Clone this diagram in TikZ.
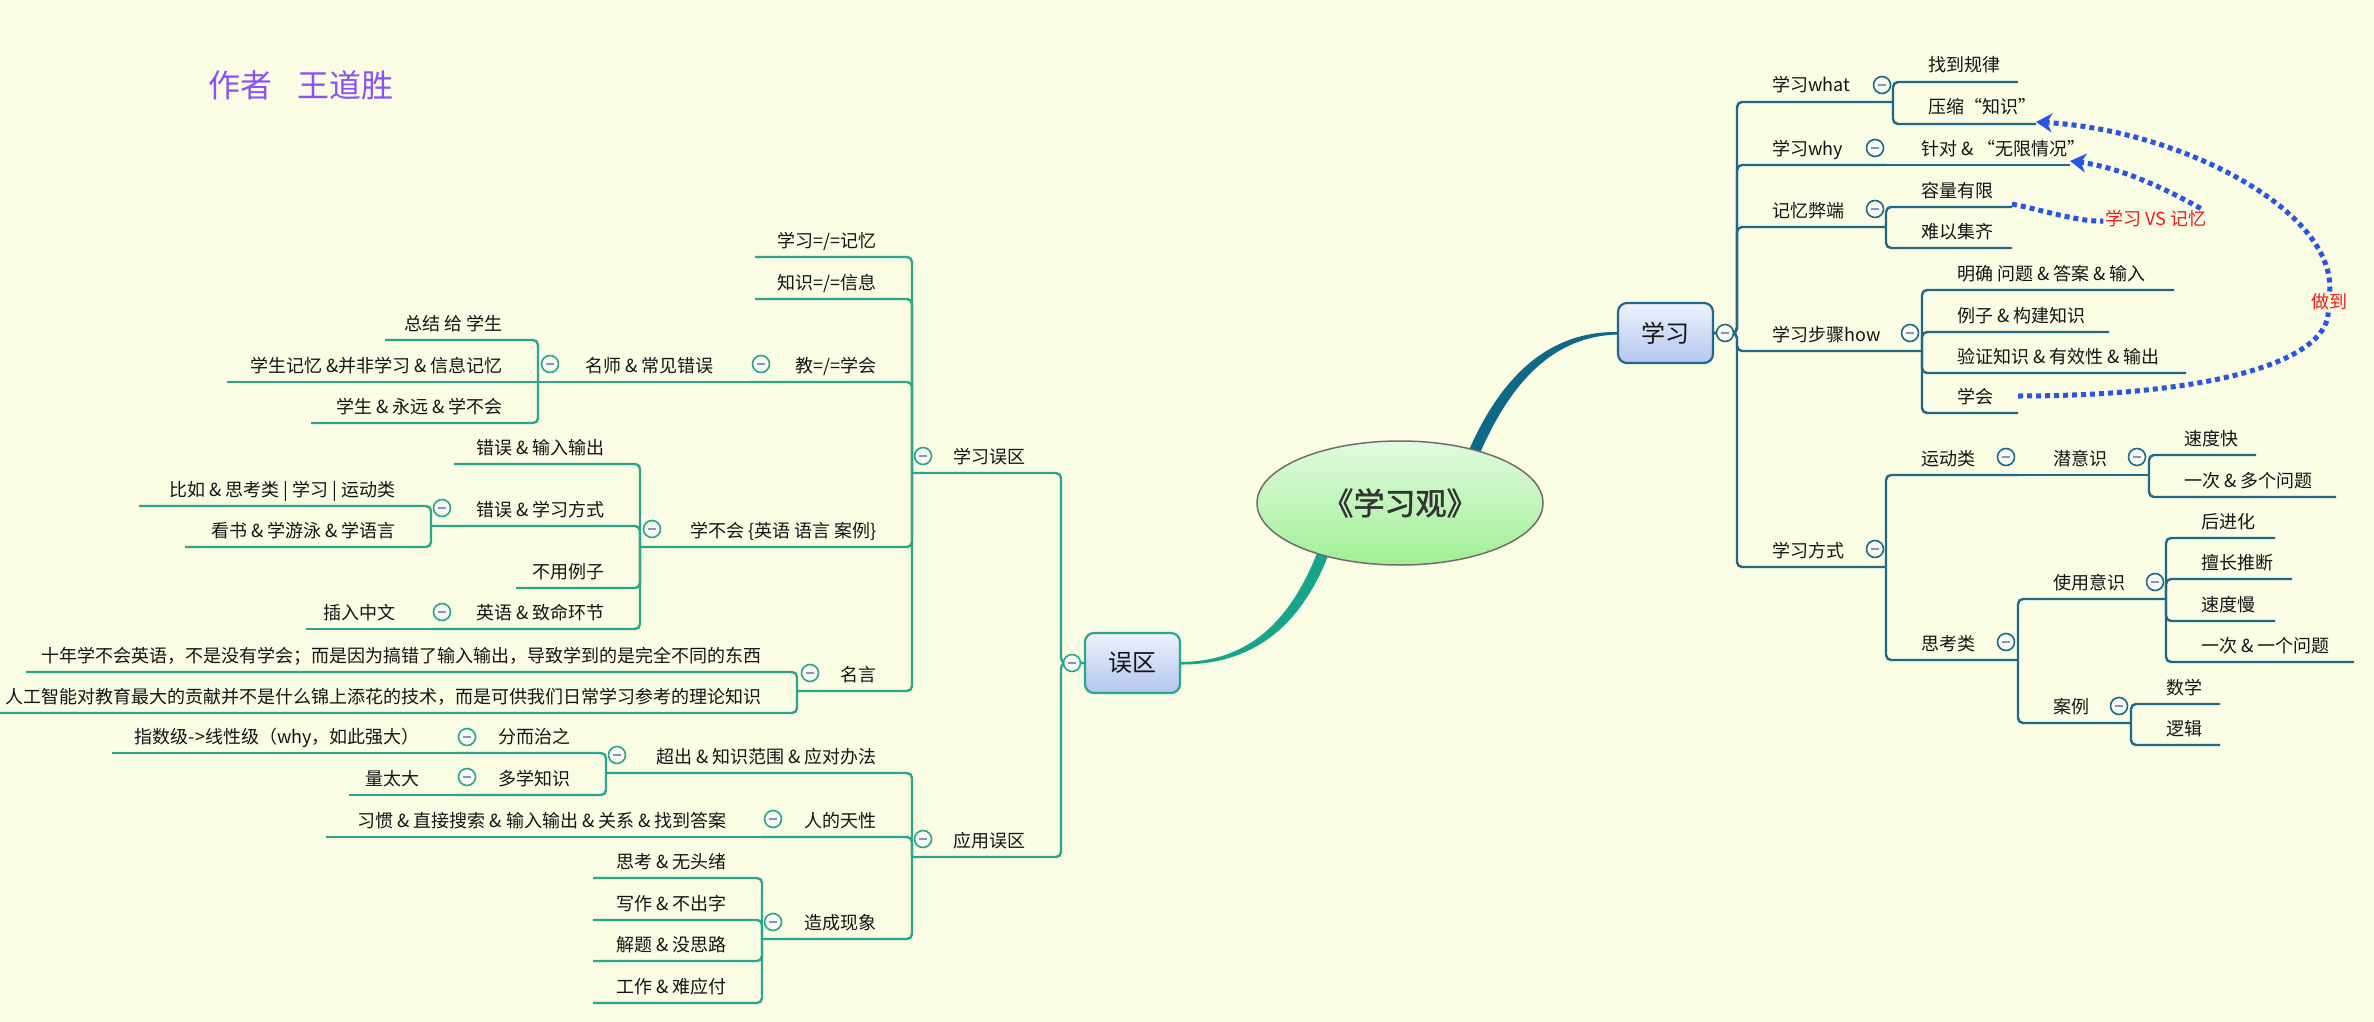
\documentclass[tikz,border=0pt]{standalone}
\usepackage{fontspec}
\setmainfont{Noto Sans CJK SC}
\newfontfamily\rootfont{Noto Sans CJK SC}[FakeBold=1.6]
\usetikzlibrary{arrows.meta,shapes.geometric}
\definecolor{bgc}{RGB}{250,252,228}
\definecolor{lcol}{RGB}{42,166,140}
\definecolor{rcol}{RGB}{30,105,135}
\definecolor{mcol}{RGB}{140,145,195}
\definecolor{acol}{RGB}{40,85,225}
\definecolor{redc}{RGB}{240,25,25}
\definecolor{pcol}{RGB}{140,80,250}
\definecolor{txtc}{RGB}{20,20,20}
\definecolor{btnfill}{RGB}{246,250,240}
\definecolor{boxtop}{RGB}{238,242,252}
\definecolor{boxbot}{RGB}{178,198,238}
\definecolor{elltop}{RGB}{226,250,224}
\definecolor{ellbot}{RGB}{160,240,148}
\definecolor{ellline}{RGB}{110,110,110}
\definecolor{rcurve}{RGB}{15,104,133}
\definecolor{lcurve}{RGB}{22,165,138}

\newcommand\mapL[5]{\coordinate (#1-l) at (#2,#4); \coordinate (#1-r) at (#3,#4); \node[txt,anchor=base east] (#1) at (#3-35,#4-10) {#5};}
\newcommand\mapR[5]{\coordinate (#1-l) at (#2,#4); \coordinate (#1-r) at (#3,#4); \node[txt,anchor=base west] (#1) at (#2+35,#4-10) {#5};}
\newcommand\conL[2]{\draw[lline] (#1-l) -- (#1-r) -- (#2-l);}
\newcommand\segL[1]{\draw[lline] (#1-l) -- (#1-r);}
\newcommand\conR[2]{\draw[rline] (#2-r) -- (#1-l) -- (#1-r);}
\newcommand\segR[1]{\draw[rline] (#1-l) -- (#1-r);}
\newcommand\btnL[3]{\node[btn=lcol] (#1) at (#2,#3) {};}
\newcommand\btnR[3]{\node[btn=rcol] (#1) at (#2,#3) {};}

\tikzset{
 txt/.style={inner sep=0pt, text=txtc, font=\fontsize{18}{21}\selectfont},
 lline/.style={draw=lcol, line width=2.4pt, rounded corners=5pt},
 rline/.style={draw=rcol, line width=2.4pt, rounded corners=5pt},
 btn/.style={circle, draw=#1, line width=1.6pt, fill=btnfill, minimum size=17pt, inner sep=0pt,
   path picture={\draw[mcol, line width=1.6pt] ([xshift=-4pt]path picture bounding box.center) -- ([xshift=4pt]path picture bounding box.center);}},
 topicbox/.style={rectangle, rounded corners=9pt, line width=2.2pt, minimum width=95pt, minimum height=60pt,
   top color=boxtop, bottom color=boxbot, text=txtc, font=\fontsize{24}{28}\selectfont},
 dotline/.style={draw=acol, line width=5pt, dash pattern=on 5pt off 4pt},
 vslabel/.style={text=redc, font=\fontsize{18}{21}\selectfont, fill=bgc, inner sep=2pt},
}

\begin{document}
\begin{tikzpicture}[x=1pt,y=-1pt]
\fill[bgc] (0,0) rectangle (2374,1022);
\useasboundingbox (0,0) rectangle (2374,1022);

% author
\node[text=pcol, font=\fontsize{32}{36}\selectfont, inner sep=0pt] (author) at (301,85) {作者\hspace{26pt}王道胜};

% main curves
\fill[rcurve] (1464,462) .. controls (1500,372) and (1552,331) .. (1618,332) -- (1618,334.5) .. controls (1556,336) and (1510,378) .. (1475,465) -- cycle;
\fill[lcurve] (1319,548) .. controls (1290,625) and (1245,662) .. (1180,662) -- (1180,664.5) .. controls (1250,665) and (1300,630) .. (1330,551) -- cycle;

% central nodes
\node[ellipse, minimum width=286pt, minimum height=124pt, draw=ellline, line width=1.5pt, top color=elltop, bottom color=ellbot, text=black!80, font=\fontsize{31}{36}\selectfont\rootfont] (root) at (1400,503) {《学习观》};
\node[topicbox, draw=rcol] (xuexi) at (1665.5,333) {学习};
\node[topicbox, draw=lcol] (wuqu) at (1132.5,663) {误区};
\coordinate (wq-b) at (1061,663);
\coordinate (xx-b) at (1737,333);

% ---------- left topics ----------
\mapL{xxwq}{912}{1061}{473}{学习误区}
\mapL{yywq}{912}{1061}{857}{应用误区}
\mapL{a1}{755}{912}{257}{学习=/=记忆}
\mapL{a2}{755}{912}{299}{知识=/=信息}
\mapL{a3}{749}{912}{382}{教=/=学会}
\mapL{a4}{640}{912}{547}{学不会 \{英语 语言 案例\}}
\mapL{a5}{797}{912}{691}{名言}
\mapL{b1}{538}{749}{382}{名师 \& 常见错误}
\mapL{c1}{385}{538}{340}{总结 给 学生}
\mapL{c2}{227}{538}{382}{学生记忆 \&并非学习 \& 信息记忆}
\mapL{c3}{311}{538}{423}{学生 \& 永远 \& 学不会}
\mapL{d1}{454}{640}{464}{错误 \& 输入输出}
\mapL{d2}{431}{640}{526}{错误 \& 学习方式}
\mapL{d3}{516}{640}{588}{不用例子}
\mapL{d4}{431}{640}{629}{英语 \& 致命环节}
\mapL{e1}{139}{431}{506}{比如 \& 思考类 | 学习 | 运动类}
\mapL{e2}{185}{431}{547}{看书 \& 学游泳 \& 学语言}
\mapL{e3}{306}{431}{629}{插入中文}
\mapL{f1}{26}{797}{672}{十年学不会英语，不是没有学会；而是因为搞错了输入输出，导致学到的是完全不同的东西}
\mapL{f2}{-5}{797}{713}{人工智能对教育最大的贡献并不是什么锦上添花的技术，而是可供我们日常学习参考的理论知识}
\mapL{g1}{606}{912}{773}{超出 \& 知识范围 \& 应对办法}
\mapL{g2}{762}{912}{837}{人的天性}
\mapL{g3}{762}{912}{939}{造成现象}
\mapL{h1}{455}{606}{753}{分而治之}
\mapL{h2}{455}{606}{795}{多学知识}
\mapL{i1}{112}{455}{753}{指数级->线性级（why，如此强大）}
\mapL{i2}{349}{455}{795}{量太大}
\mapL{j1}{326}{762}{837}{习惯 \& 直接搜索 \& 输入输出 \& 关系 \& 找到答案}
\mapL{k1}{593}{762}{878}{思考 \& 无头绪}
\mapL{k2}{593}{762}{920}{写作 \& 不出字}
\mapL{k3}{593}{762}{961}{解题 \& 没思路}
\mapL{k4}{593}{762}{1003}{工作 \& 难应付}

% ---------- right topics ----------
\mapR{r1}{1737}{1893}{102}{学习what}
\mapR{r2}{1737}{1886}{165}{学习why}
\mapR{r3}{1737}{1886}{227}{记忆弊端}
\mapR{r4}{1737}{1922}{351}{学习步骤how}
\mapR{r5}{1737}{1886}{567}{学习方式}
\mapR{s1}{1893}{2018}{82}{找到规律}
\mapR{s2}{1893}{2036}{124}{压缩“知识”}
\mapR{s3}{1886}{2070}{165}{针对 \& “无限情况”}
\mapR{s4}{1886}{2012}{207}{容量有限}
\mapR{s5}{1886}{2012}{248}{难以集齐}
\mapR{t1}{1922}{2174}{290}{明确 问题 \& 答案 \& 输入}
\mapR{t2}{1922}{2109}{332}{例子 \& 构建知识}
\mapR{t3}{1922}{2186}{373}{验证知识 \& 有效性 \& 输出}
\mapR{t4}{1922}{2018}{413}{学会}
\mapR{u1}{1886}{2018}{475}{运动类}
\mapR{u2}{1886}{2018}{660}{思考类}
\mapR{v1}{2018}{2149}{475}{潜意识}
\mapR{w1}{2149}{2256}{455}{速度快}
\mapR{w2}{2149}{2336}{497}{一次 \& 多个问题}
\mapR{x1}{2018}{2166}{599}{使用意识}
\mapR{x2}{2018}{2131}{723}{案例}
\mapR{y1}{2166}{2275}{538}{后进化}
\mapR{y2}{2166}{2292}{579}{擅长推断}
\mapR{y3}{2166}{2275}{621}{速度慢}
\mapR{y4}{2166}{2354}{662}{一次 \& 一个问题}
\mapR{z1}{2131}{2220}{704}{数学}
\mapR{z2}{2131}{2220}{745}{逻辑}

% ---------- left connectors ----------
\draw[lline] (xxwq-l) -- (xxwq-r) -- (wq-b) -- (wuqu.west);
\draw[lline] (yywq-l) -- (yywq-r) -- (wq-b) -- (wuqu.west);
\conL{a1}{xxwq} \conL{a2}{xxwq} \conL{a3}{xxwq} \conL{a4}{xxwq} \conL{a5}{xxwq}
\segL{b1}
\conL{c1}{b1} \segL{c2} \conL{c3}{b1}
\conL{d1}{a4} \conL{d2}{a4} \conL{d3}{a4} \conL{d4}{a4}
\conL{e1}{d2} \conL{e2}{d2} \segL{e3}
\conL{f1}{a5} \conL{f2}{a5}
\conL{g1}{yywq} \conL{g2}{yywq} \conL{g3}{yywq}
\conL{h1}{g1} \conL{h2}{g1}
\segL{i1} \segL{i2} \segL{j1}
\conL{k1}{g3} \conL{k2}{g3} \conL{k3}{g3} \conL{k4}{g3}

% ---------- right connectors ----------
\foreach \n in {r1,r2,r3,r4,r5}{\draw[rline] (xuexi.east) -- (xx-b) -- (\n-l) -- (\n-r);}
\conR{s1}{r1} \conR{s2}{r1} \segR{s3}
\conR{s4}{r3} \conR{s5}{r3}
\conR{t1}{r4} \conR{t2}{r4} \conR{t3}{r4} \conR{t4}{r4}
\conR{u1}{r5} \conR{u2}{r5}
\segR{v1}
\conR{w1}{v1} \conR{w2}{v1}
\conR{x1}{u2} \conR{x2}{u2}
\conR{y1}{x1} \conR{y2}{x1} \conR{y3}{x1} \conR{y4}{x1}
\conR{z1}{x2} \conR{z2}{x2}

% ---------- collapse buttons ----------
\btnL{bwq}{1072}{663}
\btnL{bxxwq}{923}{456} \btnL{byywq}{923}{839}
\btnL{ba3}{761}{364} \btnL{ba4}{652}{529} \btnL{ba5}{810}{673}
\btnL{bb1}{550}{364} \btnL{bd2}{442}{508} \btnL{bd4}{442}{612}
\btnL{bg1}{617}{755} \btnL{bg2}{773}{819} \btnL{bg3}{773}{922}
\btnL{bh1}{467}{737} \btnL{bh2}{467}{777}
\btnR{bxx}{1725}{333}
\btnR{br1}{1882}{85} \btnR{br2}{1875}{148} \btnR{br3}{1875}{209}
\btnR{br4}{1910}{333} \btnR{br5}{1875}{549}
\btnR{bu1}{2006}{457} \btnR{bv1}{2137}{457} \btnR{bu2}{2006}{642}
\btnR{bx1}{2155}{582} \btnR{bx2}{2119}{706}

% ---------- dotted relations ----------
\node[vslabel] (zuodao) at (2329,302) {做到};
\node[vslabel] (vs) at (2156,219) {学习 VS 记忆};
\draw[dotline] ([yshift=17pt]t4-r) .. controls (2200,396) and (2325,365) .. (zuodao);
\draw[dotline, -{Stealth[length=16pt,width=19pt,inset=5pt]}] (zuodao) .. controls (2335,210) and (2180,130) .. ([yshift=2pt]s2-r);
\draw[dotline] ([yshift=3pt]s4-r) .. controls (2050,212) and (2080,222) .. (vs);
\draw[dotline, -{Stealth[length=16pt,width=19pt,inset=5pt]}] ([xshift=-8pt]vs.north east) .. controls (2150,180) and (2110,166) .. ([yshift=4pt]s3-r);
\end{tikzpicture}
\end{document}
